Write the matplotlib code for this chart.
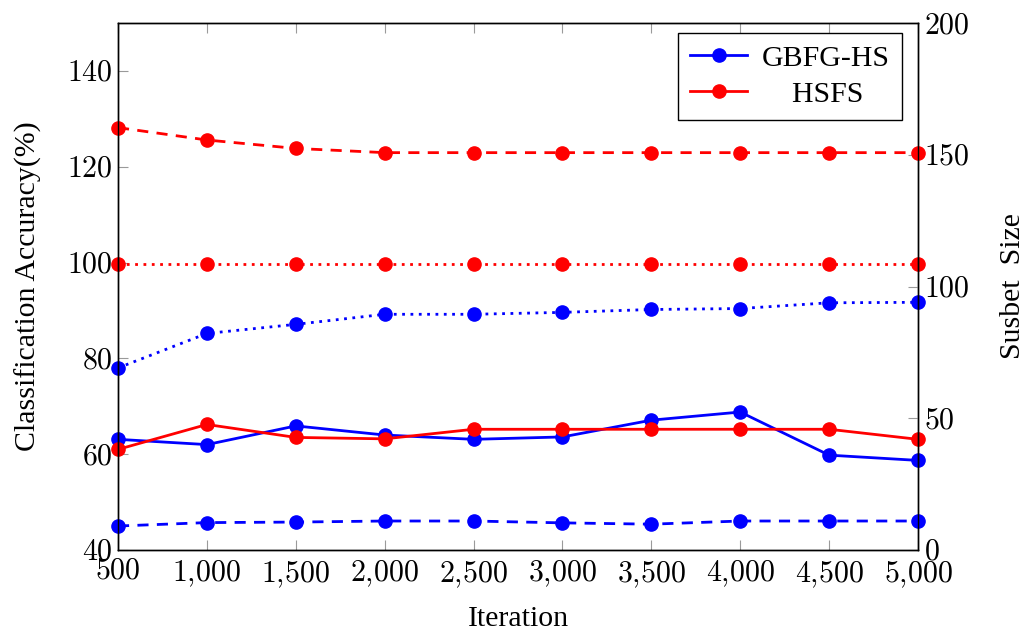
import matplotlib
matplotlib.use('Agg')
from matplotlib import pyplot as plt
from matplotlib.ticker import FuncFormatter

iterations = [500, 1000, 1500, 2000, 2500, 3000, 3500, 4000, 4500, 5000]

# accuracy (left axis)
gbfg_acc = [63.1, 62.0, 65.9, 64.0, 63.1, 63.6, 67.1, 68.8, 59.8, 58.7]
hsfs_acc = [61.0, 66.2, 63.5, 63.2, 65.2, 65.2, 65.2, 65.2, 65.2, 63.1]
gbfg_acc2 = [78.0, 85.2, 87.1, 89.2, 89.2, 89.6, 90.2, 90.4, 91.6, 91.7]
hsfs_acc2 = [99.6, 99.6, 99.6, 99.6, 99.6, 99.6, 99.6, 99.6, 99.6, 99.6]

# subset size (right axis)
gbfg_size = [9.1, 10.4, 10.6, 11.0, 11.0, 10.3, 9.8, 11.0, 11.0, 11.0]
hsfs_size = [160.3, 155.6, 152.4, 150.8, 150.8, 150.8, 150.8, 150.8, 150.8, 150.8]

plt.rcParams['font.family'] = ['Liberation Serif', 'DejaVu Serif']
plt.rcParams['mathtext.fontset'] = 'cm'

FS = 21.5
blue = '#0000ff'
red = '#ff0000'
tick_grey = '#9a9a9a'

fig = plt.figure(figsize=(10.24, 6.35), dpi=100)
ax = fig.add_axes([118 / 1024, 85 / 635, 800 / 1024, 527 / 635])
ax2 = ax.twinx()

kw = dict(lw=2, marker='o', ms=9.5, clip_on=False)
l1, = ax.plot(iterations, gbfg_acc, color=blue, ls='-', label='GBFG-HS', **kw)
# leading spaces so the shorter label sits centred like in pgfplots
l2, = ax.plot(iterations, hsfs_acc, color=red, ls='-', label='    HSFS', **kw)
ax.plot(iterations, gbfg_acc2, color=blue, ls=(0, (1, 2)), **kw)
ax.plot(iterations, hsfs_acc2, color=red, ls=(0, (1, 2)), **kw)
ax2.plot(iterations, gbfg_size, color=blue, ls=(0, (4, 3)), **kw)
ax2.plot(iterations, hsfs_size, color=red, ls=(0, (4, 3)), **kw)

ax.set_xlim(500, 5000)
ax.set_ylim(40, 150)
ax2.set_ylim(0, 200)
ax.set_xticks(iterations)
ax.set_yticks([40, 60, 80, 100, 120, 140])
ax2.set_yticks([0, 50, 100, 150, 200])


def thousands(v, pos):
    s = '{:,}'.format(int(v)).replace(',', '{,}')
    return '$' + s + '$'


def plain(v, pos):
    return '$%d$' % int(v)


ax.xaxis.set_major_formatter(FuncFormatter(thousands))
ax.yaxis.set_major_formatter(FuncFormatter(plain))
ax2.yaxis.set_major_formatter(FuncFormatter(plain))

ax.tick_params(axis='x', direction='in', top=True, color=tick_grey, length=7,
               labelsize=FS, pad=6)
ax.tick_params(axis='y', direction='in', color=tick_grey, length=7,
               labelsize=FS, pad=4)
ax2.tick_params(axis='y', direction='in', color=tick_grey, length=7,
                labelsize=FS, pad=4)

for a in (ax, ax2):
    for sp in a.spines.values():
        sp.set_linewidth(1.0)
        sp.set_color('black')

ax.set_xlabel('Iteration', fontsize=FS, labelpad=12)
ax.set_ylabel('Classification Accuracy(%)', fontsize=FS, labelpad=18)
ax2.set_ylabel('Susbet  Size', fontsize=FS, labelpad=22)

leg = ax.legend(handles=[l1, l2], loc='upper right', fontsize=FS, frameon=True,
                fancybox=False, edgecolor='black', framealpha=1,
                handlelength=1.9, handletextpad=0.5, borderpad=0.4,
                labelspacing=0.3, borderaxespad=0,
                bbox_to_anchor=(0.98, 0.981))
leg.get_frame().set_linewidth(1.0)

fig.savefig('out.png', dpi=100)
